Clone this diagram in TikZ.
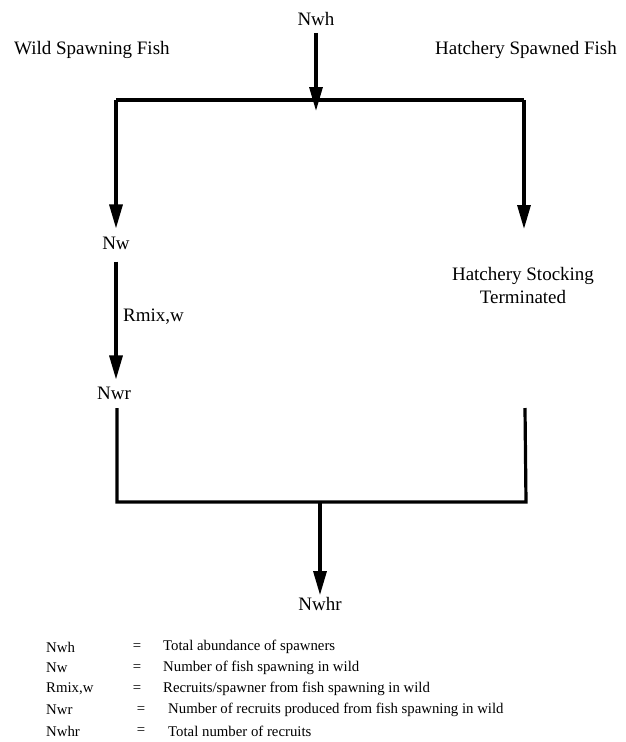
\documentclass[tikz,border=0pt]{standalone}
\usepackage{fontspec}
\setmainfont{Liberation Serif}
\usetikzlibrary{positioning,arrows.meta}

\tikzset{
  flow/.style={line width=3.2pt,-{Triangle[length=24pt,width=13pt]}},
  bar/.style={line width=3.2pt},
  lbl/.style={font=\fontsize{19}{23}\selectfont,inner sep=2pt},
  key/.style={font=\fontsize{14.8}{18}\selectfont,inner sep=0pt,anchor=west},
}

\begin{document}
\begin{tikzpicture}[x=1pt,y=-1pt]
  \useasboundingbox (0,0) rectangle (626,742);

  % headings and stock labels
  \node[lbl] (nwh) at (316,19) {Nwh};
  \node[lbl,anchor=west] (wild) at (12,50) {Wild Spawning Fish};
  \node[lbl] (hatch) at (526,50) {Hatchery Spawned Fish};
  \node[lbl] (nw) at (116,243) {Nw};
  \node[lbl,anchor=west] (rmix) at (121,317) {Rmix,w};
  \node[lbl] (nwr) at (114,393) {Nwr};
  \node[lbl,align=center] (term) at (523,285) {Hatchery Stocking\\Terminated};
  \node[lbl] (nwhr) at (320,604) {Nwhr};

  % split and join points
  \coordinate (tl) at (116,100);
  \coordinate (tr) at (524,100);
  \coordinate (tm) at (316,111);
  \coordinate (termtop) at (524,229);
  \coordinate (lfoot) at (117,408);
  \coordinate (rfoot) at (525,408);
  \coordinate (bl) at (117,502);
  \coordinate (br) at (526,502);
  \coordinate (bm) at (320,502);

  \draw[flow,shorten <=5pt] (nwh) -- (tm);
  \draw[bar] (tl) -- (tr);
  \draw[flow,shorten >=6pt] (tl) -- (nw);
  \draw[flow] (tr) -- (termtop);
  \draw[flow,shorten <=10pt,shorten >=5pt] (nw) -- (nw |- nwr.north);
  \draw[bar] (lfoot) -- (bl) -- (br) -- (rfoot);
  \draw[flow] (bm) -- (nwhr);

  % key
  \foreach \sym/\eqx/\defx/\txt [count=\i from 0] in {
      Nwh/137/163/Total abundance of spawners,
      Nw/137/163/Number of fish spawning in wild,
      {Rmix,w}/137/163/{Recruits/spawner from fish spawning in wild},
      Nwr/141/168/Number of recruits produced from fish spawning in wild,
      Nwhr/141/168/Total number of recruits}
  {
    \node[key] (sym\i) at (46,647+21*\i) {\sym};
    \node[key,anchor=center] (eq\i) at (\eqx,647+21*\i) {=};
    \node[key] (def\i) at (\defx,647+21*\i) {\txt};
  }
\end{tikzpicture}
\end{document}
